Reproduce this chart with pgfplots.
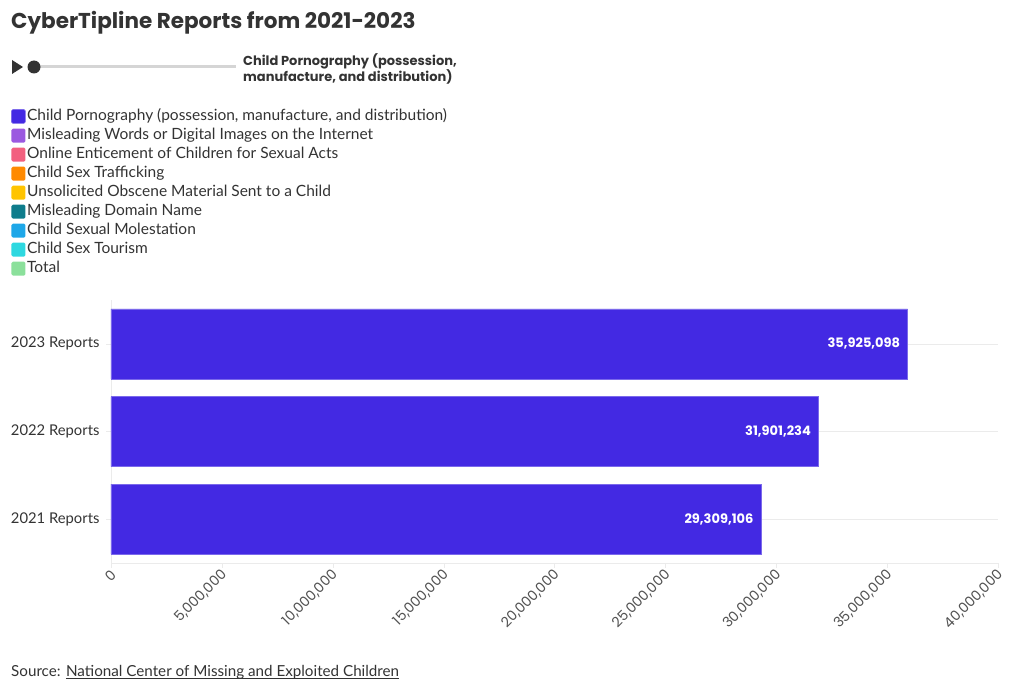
\documentclass[border=0pt]{standalone}
\usepackage{fontspec}
\setmainfont{Lato}
\newfontfamily\popfont{Poppins}
\usepackage{pgfplots}
\pgfplotsset{compat=1.18}
\usepackage{pgfplotstable}
\definecolor{barc}{HTML}{4329E3}
\definecolor{c2}{HTML}{9B59E0}
\definecolor{c3}{HTML}{F2607F}
\definecolor{c4}{HTML}{FF8A00}
\definecolor{c5}{HTML}{FFC400}
\definecolor{c6}{HTML}{0E7C8B}
\definecolor{c7}{HTML}{1EA7E8}
\definecolor{c8}{HTML}{2ED8E0}
\definecolor{c9}{HTML}{8BE09B}
\definecolor{txt}{HTML}{333333}
\definecolor{gridc}{HTML}{EBEBEB}
\pgfplotstableread{
y x label
0 29309106 29,309,106
1 31901234 31,901,234
2 35925098 35,925,098
}\datatable
\begin{document}
\begin{tikzpicture}
\path[use as bounding box] (0pt,0pt) rectangle (1020pt,-690pt);
\node[anchor=west, text=txt, font=\popfont\bfseries\fontsize{21.5}{24}\selectfont, inner sep=0] at (11pt,-23pt) {CyberTipline Reports from 2021-2023};
% slider
\fill[txt] (12pt,-60pt) -- (23pt,-67pt) -- (12pt,-74pt) -- cycle;
\draw[line width=3pt, color=gridc!80!gray] (34pt,-67pt) -- (236pt,-67pt);
\fill[txt] (34pt,-67pt) circle (6.5pt);
\node[anchor=north west, align=left, text=txt, font=\popfont\bfseries\fontsize{13}{13.5}\selectfont, inner sep=0] at (243pt,-53pt) {Child Pornography (possession,\\manufacture, and distribution)};
% source
\node[anchor=base west, text=txt, font=\fontsize{15.2}{17}\selectfont, inner sep=0] (src) at (11pt,-676pt) {Source:};
\node[anchor=base west, text=txt, font=\fontsize{15.2}{17}\selectfont, inner sep=0] (lnk) at ([xshift=5pt]src.base east) {National Center of Missing and Exploited Children};
\draw[txt, line width=0.8pt] ([yshift=-2.5pt]lnk.base west) -- ([yshift=-2.5pt]lnk.base east);
\begin{axis}[
  at={(111pt,-563pt)}, anchor=south west, scale only axis,
  width=887pt, height=263pt,
  xmin=0, xmax=40000000, ymin=-0.5, ymax=2.5,
  xtick={0,5000000,10000000,15000000,20000000,25000000,30000000,35000000,40000000},
  scaled x ticks=false,
  xticklabel style={rotate=45, anchor=east, yshift=-5pt, xshift=2pt, font=\popfont\fontsize{14}{14}\selectfont, text=txt!85, /pgf/number format/assume math mode=true},
  /pgf/number format/.cd, fixed, 1000 sep={,}, /pgfplots/.cd,
  ytick={0,1,2}, yticklabels={2021 Reports,2022 Reports,2023 Reports},
  yticklabel style={font=\fontsize{14.8}{17}\selectfont, text=txt, xshift=-3pt},
  axis x line=bottom, axis y line=left,
  axis line style={gridc, -},
  major tick length=5pt,
  tick style={gridc},
  tick align=outside,
  ymajorgrids, grid style={gridc, line width=0.6pt},
  legend style={at={(-0.11274,1.7262)}, anchor=north west, draw=none, fill=none,
    inner sep=0pt, row sep=5pt,
    font=\fontsize{15.5}{17}\selectfont, text=txt,
    nodes={inner xsep=1.5pt, inner ysep=0pt, text height=11pt, text depth=3pt},
    cells={anchor=west}},
  legend image code/.code={\fill[#1, rounded corners=1.5pt] (0pt,-7pt) rectangle (14pt,7pt);},
  clip=false,
]
\addplot[xbar, bar width=70pt, fill=barc, draw=barc!70!white, line width=0.4pt,
  point meta=explicit symbolic,
  nodes near coords, nodes near coords align={anchor=east},
  every node near coord/.append style={anchor=east, xshift=-4pt, text=white, font=\popfont\bfseries\fontsize{13}{13}\selectfont}]
  table[x=x, y=y, meta=label] {\datatable};
\addlegendentry{Child Pornography (possession, manufacture, and distribution)}
\addlegendimage{fill=c2, draw=none}\addlegendentry{Misleading Words or Digital Images on the Internet}
\addlegendimage{fill=c3, draw=none}\addlegendentry{Online Enticement of Children for Sexual Acts}
\addlegendimage{fill=c4, draw=none}\addlegendentry{Child Sex Trafficking}
\addlegendimage{fill=c5, draw=none}\addlegendentry{Unsolicited Obscene Material Sent to a Child}
\addlegendimage{fill=c6, draw=none}\addlegendentry{Misleading Domain Name}
\addlegendimage{fill=c7, draw=none}\addlegendentry{Child Sexual Molestation}
\addlegendimage{fill=c8, draw=none}\addlegendentry{Child Sex Tourism}
\addlegendimage{fill=c9, draw=none}\addlegendentry{Total}
\end{axis}
\end{tikzpicture}
\end{document}
